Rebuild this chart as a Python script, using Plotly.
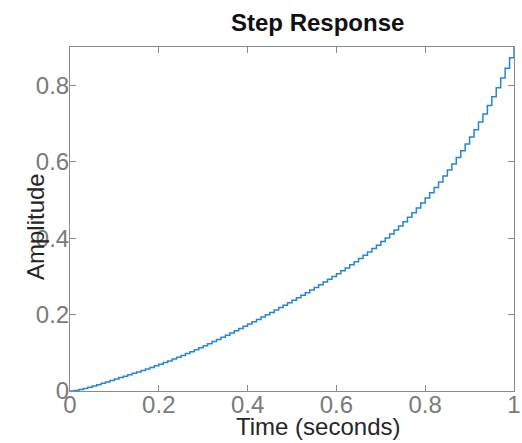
import plotly.graph_objects as go

# Sample times (seconds) and step-response amplitudes
time_s = [round(i * 0.01, 2) for i in range(101)]
amplitude = [
    0.0000, 0.0015, 0.0038, 0.0066, 0.0097, 0.0130, 0.0165, 0.0201, 0.0238, 0.0276,
    0.0315, 0.0351, 0.0387, 0.0424, 0.0462, 0.0500, 0.0539, 0.0578, 0.0618, 0.0658,
    0.0699, 0.0743, 0.0788, 0.0834, 0.0881, 0.0929, 0.0978, 0.1028, 0.1079, 0.1131,
    0.1184, 0.1238, 0.1293, 0.1348, 0.1404, 0.1461, 0.1518, 0.1576, 0.1634, 0.1693,
    0.1753, 0.1813, 0.1873, 0.1934, 0.1995, 0.2057, 0.2119, 0.2182, 0.2245, 0.2309,
    0.2374, 0.2439, 0.2505, 0.2572, 0.2640, 0.2709, 0.2779, 0.2850, 0.2922, 0.2995,
    0.3069, 0.3144, 0.3221, 0.3300, 0.3381, 0.3464, 0.3549, 0.3636, 0.3725, 0.3816,
    0.3910, 0.4006, 0.4106, 0.4210, 0.4318, 0.4430, 0.4546, 0.4666, 0.4790, 0.4918,
    0.5050, 0.5185, 0.5325, 0.5471, 0.5622, 0.5779, 0.5941, 0.6109, 0.6283, 0.6462,
    0.6647, 0.6837, 0.7037, 0.7247, 0.7467, 0.7697, 0.7937, 0.8187, 0.8447, 0.8717,
    0.8997,
]

x_ticks = [0, 0.2, 0.4, 0.6, 0.8, 1]
x_tick_labels = ["0", "0.2", "0.4", "0.6", "0.8", "1"]
y_ticks = [0, 0.2, 0.4, 0.6, 0.8]
y_tick_labels = ["0", "0.2", "0.4", "0.6", "0.8"]

FONT = "Liberation Sans, Arial, Helvetica, sans-serif"
AXIS_GRAY = "#8a8a8a"
TICK_TEXT = "#7a7a7a"

fig = go.Figure()
fig.add_trace(go.Scatter(
    x=time_s, y=amplitude, mode="lines",
    line=dict(color="#2585d4", width=1.5, shape="hv"),
    showlegend=False, hoverinfo="skip",
))

axis_common = dict(
    showline=True, linecolor=AXIS_GRAY, linewidth=1,
    mirror="ticks", ticks="inside", ticklen=6, tickwidth=1, tickcolor=AXIS_GRAY,
    showgrid=False, zeroline=False, automargin=False,
    tickfont=dict(family=FONT, size=24, color=TICK_TEXT),
)

fig.update_layout(
    width=522, height=443,
    margin=dict(l=70, r=8, t=47, b=52),
    paper_bgcolor="white", plot_bgcolor="white",
    showlegend=False,
    xaxis=dict(range=[0, 1], tickvals=x_ticks, ticktext=x_tick_labels,
               ticklabelstandoff=-8, **axis_common),
    yaxis=dict(range=[0, 0.9], tickvals=y_ticks, ticktext=y_tick_labels,
               ticklabelstandoff=-5, **axis_common),
    annotations=[
        dict(text="<b>Step Response</b>", xref="paper", yref="paper",
             x=(317 - 70) / 444, y=1, yshift=25, showarrow=False,
             xanchor="center", yanchor="middle",
             font=dict(family=FONT, size=24, color="#111111")),
        dict(text="Time (seconds)", xref="paper", yref="paper",
             x=(318 - 70) / 444, y=0, yshift=-35, showarrow=False,
             xanchor="center", yanchor="middle",
             font=dict(family=FONT, size=24, color="#262626")),
        dict(text="Amplitude", xref="paper", yref="paper",
             x=0, xshift=-35, y=(391 - 227) / 344, showarrow=False,
             textangle=-90, xanchor="center", yanchor="middle",
             font=dict(family=FONT, size=24, color="#262626")),
    ],
)

fig.write_html(
    "out.html",
    post_script="document.body.style.margin='0';document.body.style.overflow='hidden';",
    config={"displayModeBar": False},
)
